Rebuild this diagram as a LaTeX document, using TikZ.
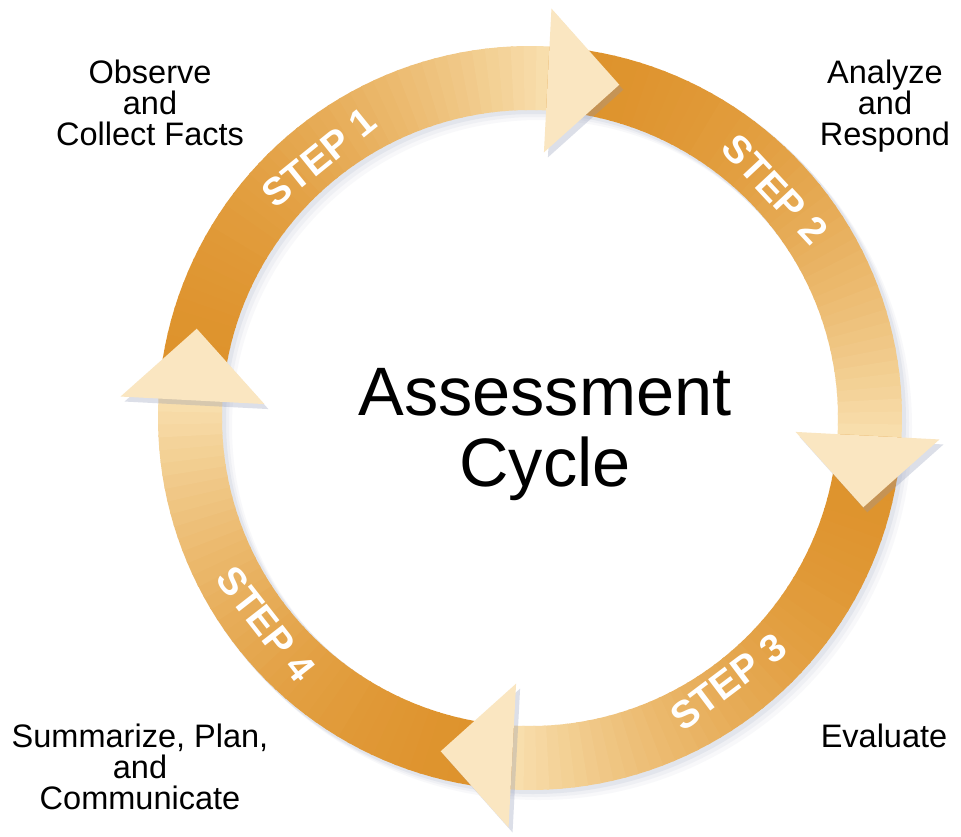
\documentclass[tikz,border=0pt]{standalone}
\usepackage{fontspec}
\setmainfont{Liberation Sans}
\usetikzlibrary{calc}
\definecolor{cycorange}{RGB}{222,147,45}
\definecolor{cyccream}{RGB}{248,222,172}
\definecolor{cychead}{RGB}{250,230,193}
\definecolor{cycshadow}{RGB}{140,150,180}
\newcommand\tightlines{\lineskiplimit -100pt\relax}
\begin{document}
\begin{tikzpicture}[x=0.2mm,y=0.2mm,
  steplabel/.style={text=white,font=\bfseries\fontsize{22}{22}\selectfont},
  sidelabel/.style={align=center,font=\fontsize{18.5}{17.65}\selectfont\tightlines}]
  \useasboundingbox[fill=white] (0,0) rectangle (961,836);
  \coordinate (c) at (530,418);
  % soft shadow under the ring
  \foreach \o/\op in {9/0.06,6/0.08,3/0.12}{
    \fill[cycshadow,opacity=\op,even odd rule]
      ($(c)+(\o,-\o)$) circle[radius=373] ($(c)+(\o,-\o)$) circle[radius=307];
  }
  % the four shafts, dark tail to light front
  \foreach \k in {0,...,3}{
    \pgfmathsetmacro\s{177-90*\k}
    \foreach \i in {0,...,44}{
      \pgfmathsetmacro\a{\s-2*\i}
      \pgfmathsetmacro\b{\a-2.4}
      \pgfmathtruncatemacro\p{100*(\i/44)^2}
      \fill[cyccream!\p!cycorange] ($(c)+(\a:372)$) arc[start angle=\a,end angle=\b,radius=372]
        -- ($(c)+(\b:308)$) arc[start angle=\b,end angle=\a,radius=308] -- cycle;
    }
  }
  % heads
  \foreach \k in {0,...,3}{
    \pgfmathsetmacro\e{87-90*\k}
    \pgfmathsetmacro\f{\e-12}
    \fill[cycshadow,opacity=0.3] ($(c)+(\e:266)+(4,-5)$) -- ($(c)+(\e:410)+(4,-5)$)
      -- ($(c)+(\f:345)+(4,-5)$) -- cycle;
    \fill[cychead] ($(c)+(\e:266)$) -- ($(c)+(\e:410)$) -- ($(c)+(\f:345)$) -- cycle;
  }
  \node[steplabel,rotate=39] (step1) at ($(c)+(129:335)$) {STEP 1};
  \node[steplabel,rotate=-47] (step2) at ($(c)+(43:335)$) {STEP 2};
  \node[steplabel,rotate=37] (step3) at ($(c)+(-53:330)$) {STEP 3};
  \node[steplabel,rotate=-52] (step4) at ($(c)+(218:335)$) {STEP 4};
  \node[align=center,font=\fontsize{39}{40.4}\selectfont] (title) at (545,401) {Assessment\\Cycle};
  \node[sidelabel] (observe) at (150,733) {Observe\\and\\Collect Facts};
  \node[sidelabel] (analyze) at (885,730) {Analyze\\and\\Respond};
  \node[sidelabel] (summarize) at (140,69) {Summarize, Plan,\\and\\Communicate};
  \node[sidelabel,anchor=base] (evaluate) at (884,89) {Evaluate};
\end{tikzpicture}
\end{document}
